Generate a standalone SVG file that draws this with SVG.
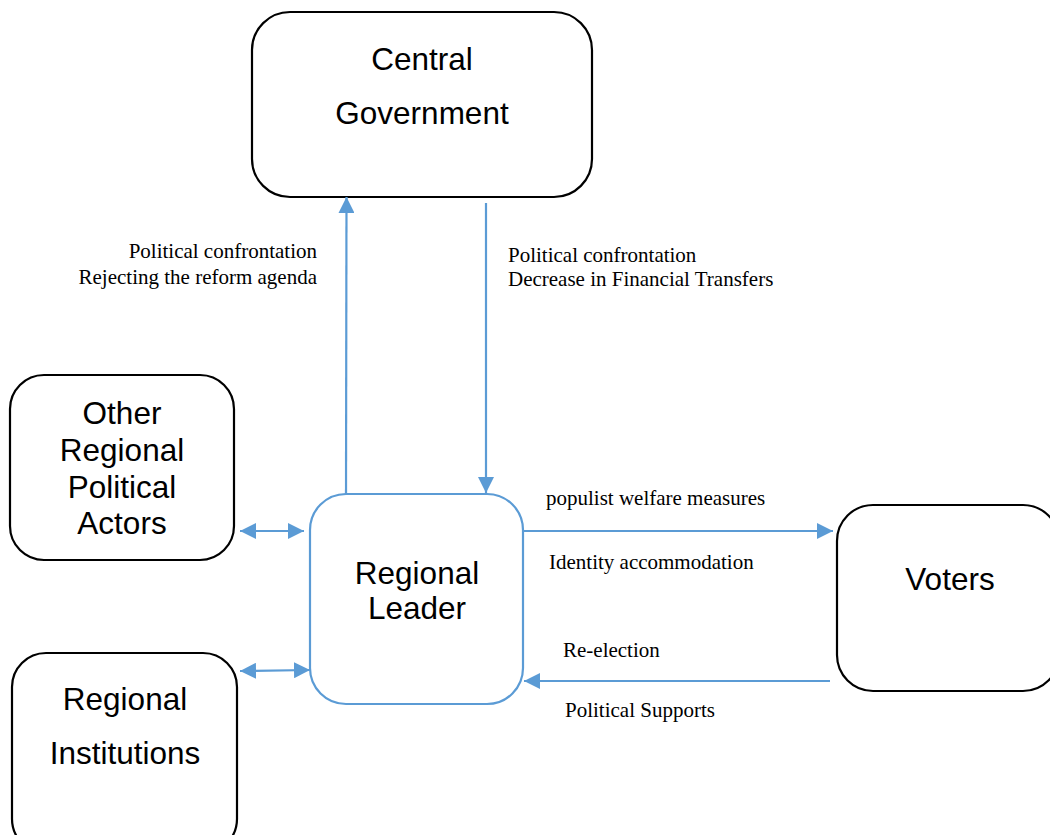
<svg xmlns="http://www.w3.org/2000/svg" width="1050" height="835" viewBox="0 0 1050 835">
<style>
.box{fill:#fff;stroke:#000;stroke-width:2.2}
.blue{fill:#fff;stroke:#5b9bd5;stroke-width:2.2}
.t{font-family:"Liberation Sans",Arial,sans-serif;font-size:31.5px;fill:#000;text-anchor:middle}
.l{font-family:"Liberation Serif","Times New Roman",serif;font-size:21px;fill:#000}
.c{stroke:#5b9bd5;stroke-width:2.2;fill:none}
</style>
<defs>
<marker id="ah" viewBox="0 0 10 10" refX="10" refY="5" markerWidth="16" markerHeight="16" markerUnits="userSpaceOnUse" orient="auto-start-reverse">
<path d="M0,0 L10,5 L0,10 z" fill="#5b9bd5"/>
</marker>
</defs>
<rect width="1050" height="835" fill="#fff"/>
<g id="central-government">
<rect class="box" x="252" y="12" width="340" height="185" rx="38"/>
<text class="t" x="422" y="70">Central</text>
<text class="t" x="422" y="124">Government</text>
</g>
<g id="other-actors">
<rect class="box" x="10" y="375" width="224" height="185" rx="34"/>
<text class="t" x="122" y="424">Other</text>
<text class="t" x="122" y="461">Regional</text>
<text class="t" x="122" y="498">Political</text>
<text class="t" x="122" y="534">Actors</text>
</g>
<g id="regional-leader">
<rect class="blue" x="310" y="494" width="213" height="210" rx="36"/>
<text class="t" x="417" y="584">Regional</text>
<text class="t" x="417" y="619">Leader</text>
</g>
<g id="voters">
<rect class="box" x="837" y="505" width="222" height="186" rx="36"/>
<text class="t" x="950" y="590">Voters</text>
</g>
<g id="regional-institutions">
<rect class="box" x="12" y="653" width="225" height="200" rx="34"/>
<text class="t" x="125" y="710">Regional</text>
<text class="t" x="125" y="764">Institutions</text>
</g>
<g id="connectors">
<line class="c" x1="346" y1="494" x2="346.5" y2="197" marker-end="url(#ah)"/>
<line class="c" x1="486" y1="203" x2="486" y2="493" marker-end="url(#ah)"/>
<line class="c" x1="523" y1="531" x2="833" y2="531" marker-end="url(#ah)"/>
<line class="c" x1="830" y1="681" x2="524" y2="681" marker-end="url(#ah)"/>
<line class="c" x1="240" y1="531" x2="304" y2="531" marker-start="url(#ah)" marker-end="url(#ah)"/>
<line class="c" x1="240" y1="671" x2="310" y2="670" marker-start="url(#ah)" marker-end="url(#ah)"/>
</g>
<g id="labels">
<text class="l" x="317" y="258" text-anchor="end">Political confrontation</text>
<text class="l" x="317" y="284" text-anchor="end">Rejecting the reform agenda</text>
<text class="l" x="508" y="262">Political confrontation</text>
<text class="l" x="508" y="286">Decrease in Financial Transfers</text>
<text class="l" x="546" y="505">populist welfare measures</text>
<text class="l" x="549" y="569">Identity accommodation</text>
<text class="l" x="563" y="657">Re-election</text>
<text class="l" x="565" y="717">Political Supports</text>
</g>
</svg>
